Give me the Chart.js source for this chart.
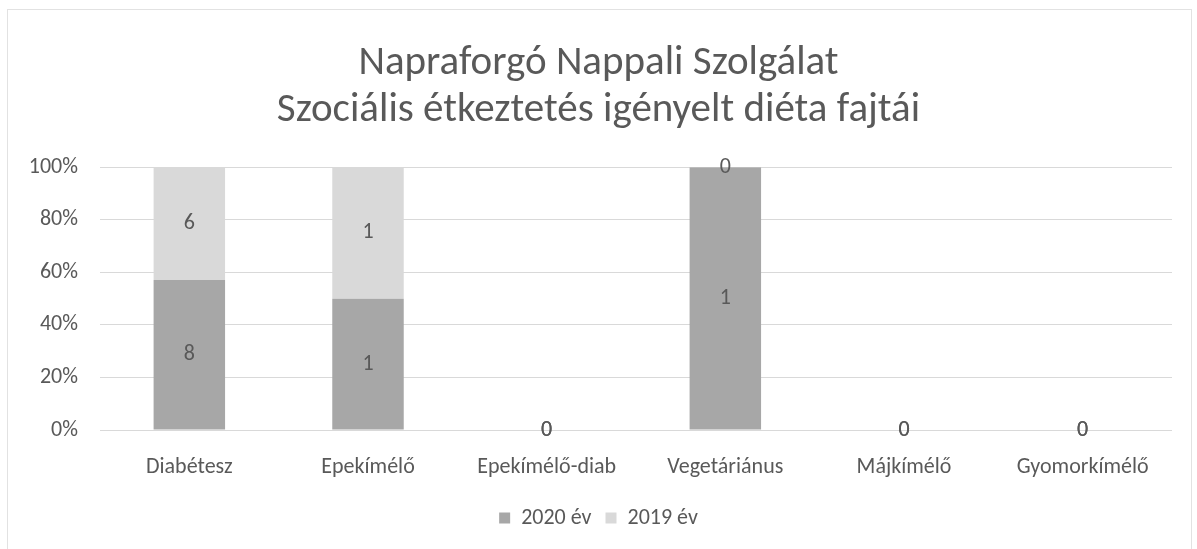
<!DOCTYPE html>
<html>
<head>
<meta charset="utf-8">
<script src="https://cdn.jsdelivr.net/npm/chart.js@4/dist/chart.umd.min.js"></script>
<style>
  body { margin: 0; background: #fff; }
  #wrap { position: relative; width: 1197px; height: 549px; overflow: hidden; }
  #frame { position: absolute; left: 7px; top: 9px; width: 1183px; height: 560px; border: 1px solid #e2e2e2; pointer-events: none; }
</style>
</head>
<body>
<div id="wrap"><canvas id="dietChart"></canvas><div id="frame"></div></div>
<script>
// Chart data
const categories = ['Diabétesz', 'Epekímélő', 'Epekímélő-diab', 'Vegetáriánus', 'Májkímélő', 'Gyomorkímélő'];
const values2020 = [8, 1, 0, 1, 0, 0];
const values2019 = [6, 1, 0, 0, 0, 0];
const seriesNames = ['2020 év', '2019 év'];
const yTicks = [0, 20, 40, 60, 80, 100];

const fontFamily = 'Carlito, Calibri, "Open Sans", sans-serif';
const textColor = '#595959';

// 100% stacked: share of each series within the category
function toPercent(values, others) {
    return values.map((v, i) => {
        const total = v + others[i];
        return total > 0 ? v / total * 100 : 0;
    });
}

const rawValues = [values2020, values2019];

// draw the raw counts in the middle of each segment
const valueLabels = {
    id: 'valueLabels',
    afterDatasetsDraw(chart) {
        const ctx = chart.ctx;
        ctx.save();
        ctx.font = '22px ' + fontFamily;
        ctx.fillStyle = '#595959';
        ctx.textAlign = 'center';
        ctx.textBaseline = 'middle';
        chart.data.datasets.forEach((ds, di) => {
            chart.getDatasetMeta(di).data.forEach((bar, i) => {
                const y = (bar.y + bar.base) / 2;
                ctx.fillText(String(rawValues[di][i]), bar.x, y);
            });
        });
        ctx.restore();
    }
};

const ctx = document.getElementById('dietChart').getContext('2d');
window.myChart = new Chart(ctx, {
    type: 'bar',
    data: {
        labels: categories,
        datasets: [{
            label: seriesNames[0],
            data: toPercent(values2020, values2019),
            backgroundColor: '#a7a7a7',
            categoryPercentage: 1,
            barPercentage: 0.4
        }, {
            label: seriesNames[1],
            data: toPercent(values2019, values2020),
            backgroundColor: '#d9d9d9',
            categoryPercentage: 1,
            barPercentage: 0.4
        }]
    },
    options: {
        responsive: true,
        maintainAspectRatio: false,
        animation: false,
        layout: {
            padding: { left: 25, right: 25, top: 40, bottom: 10 }
        },
        plugins: {
            title: {
                display: true,
                text: ['Napraforgó Nappali Szolgálat', 'Szociális étkeztetés igényelt diéta fajtái'],
                color: textColor,
                font: { family: fontFamily, size: 41, weight: 'normal', lineHeight: 1.15 },
                padding: { top: 0, bottom: 33 }
            },
            legend: {
                position: 'bottom',
                labels: {
                    color: textColor,
                    font: { family: fontFamily, size: 22 },
                    boxWidth: 11,
                    boxHeight: 11,
                    padding: 14
                }
            },
            tooltip: { enabled: false }
        },
        scales: {
            x: {
                stacked: true,
                afterFit(scale) { scale.height = 63; },
                grid: { display: false },
                border: { display: false },
                ticks: {
                    color: textColor,
                    font: { family: fontFamily, size: 22 },
                    padding: 16,
                    maxRotation: 0
                }
            },
            y: {
                stacked: true,
                min: 0,
                max: 100,
                afterFit(scale) { scale.width = 75; },
                afterBuildTicks(scale) { scale.ticks = yTicks.map(v => ({ value: v })); },
                grid: { color: '#d9d9d9', drawTicks: false },
                border: { display: false },
                ticks: {
                    color: textColor,
                    font: { family: fontFamily, size: 22 },
                    padding: 22,
                    callback: v => v + '%'
                }
            }
        }
    },
    plugins: [valueLabels]
});
</script>
</body>
</html>
